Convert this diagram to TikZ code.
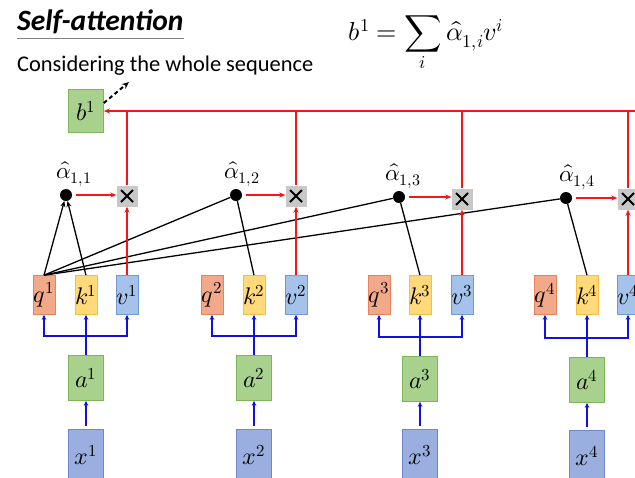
\documentclass[tikz,border=0pt]{standalone}
\usepackage{fontspec}
\usepackage{unicode-math}
\setmainfont{Carlito}
\usetikzlibrary{arrows.meta}

\definecolor{qfill}{HTML}{F2A98A}
\definecolor{qline}{HTML}{E8825A}
\definecolor{kfill}{HTML}{FFD97A}
\definecolor{kline}{HTML}{F5C040}
\definecolor{vfill}{HTML}{A4C2EA}
\definecolor{vline}{HTML}{6E9BD8}
\definecolor{gfill}{HTML}{A8D18D}
\definecolor{gline}{HTML}{7DB65A}
\definecolor{xfill}{HTML}{9AAEE0}
\definecolor{xline}{HTML}{6F88CC}
\definecolor{mfill}{HTML}{C8C8C8}
\definecolor{arrowblue}{HTML}{1010E0}
\definecolor{arrowred}{HTML}{F21818}

\newcommand{\labelsize}{\fontsize{24}{24}\selectfont}
\newcommand{\alphasize}{\fontsize{23}{24}\selectfont}
\newcommand{\titlesize}{\fontsize{29.5}{30}\selectfont}
\newcommand{\subsize}{\fontsize{22.4}{24}\selectfont}
\newcommand{\eqsize}{\fontsize{26}{28}\selectfont}

\begin{document}
\begin{tikzpicture}[x=1pt,y=-1pt,
  box/.style={draw, line width=0.6pt, inner sep=0pt, minimum width=22pt, minimum height=39pt, font=\labelsize},
  qbox/.style={box, fill=qfill, draw=qline},
  kbox/.style={box, fill=kfill, draw=kline},
  vbox/.style={box, fill=vfill, draw=vline},
  abox/.style={box, fill=gfill, draw=gline, minimum width=35pt, minimum height=45pt},
  xbox/.style={box, fill=xfill, draw=xline, minimum width=35pt, minimum height=52pt},
  mulbox/.style={fill=mfill, inner sep=0pt, minimum size=21pt,
    path picture={
      \draw[line width=2pt] ([shift={(4.5pt,4.5pt)}]path picture bounding box.south west) -- ([shift={(-4.5pt,-4.5pt)}]path picture bounding box.north east);
      \draw[line width=2pt] ([shift={(4.5pt,-4.5pt)}]path picture bounding box.north west) -- ([shift={(-4.5pt,4.5pt)}]path picture bounding box.south east);}},
  alphadot/.style={circle, fill=black, inner sep=0pt, minimum size=12pt},
  alphalabel/.style={font=\alphasize},
  blueline/.style={arrowblue, line width=1.3pt},
  bluearrow/.style={blueline, -{Stealth[length=5pt,width=4.5pt]}},
  redline/.style={arrowred, line width=1.3pt},
  redarrow/.style={redline, -{Stealth[length=6pt,width=5pt]}},
  blackline/.style={black, line width=1.3pt},
  blackarrow/.style={blackline, -{Stealth[length=6pt,width=5pt]}}]

\useasboundingbox (0,0) rectangle (635,477);

\node [anchor=west, inner xsep=0pt, inner ysep=1pt, font=\titlesize\bfseries\itshape] (Title) at (17,22) {Self-attention};
\draw [gray, line width=1.2pt] ([yshift=-3pt]Title.south west) -- ([yshift=-3pt]Title.south east);
\node [anchor=west, inner xsep=0pt, font=\subsize] (Sub) at (17,66) {Considering the whole sequence};
\node [font=\eqsize] (Eq) at (426,44) {$b^1=\displaystyle\sum_i \hat{\alpha}_{1,i}v^i$};

\node [abox, minimum height=43pt] (B1) at (86,111) {$b^1$};
\coordinate (Up) at (129,82);
\draw [black, line width=2pt, dash pattern=on 4pt off 3pt, -{Stealth[length=7pt,width=6pt]}] ([yshift=8pt]B1.east) -- (Up);

\node [qbox] (Q1) at (44,295) {$q^1$};
\node [kbox] (K1) at (86,295) {$k^1$};
\node [vbox] (V1) at (127,295) {$v^1$};
\node [qbox] (Q2) at (212,295) {$q^2$};
\node [kbox] (K2) at (254,295) {$k^2$};
\node [vbox] (V2) at (296,295) {$v^2$};
\node [qbox] (Q3) at (379,295) {$q^3$};
\node [kbox] (K3) at (420,295) {$k^3$};
\node [vbox] (V3) at (462,295) {$v^3$};
\node [qbox] (Q4) at (545,295) {$q^4$};
\node [kbox] (K4) at (587,295) {$k^4$};
\node [vbox] (V4) at (628,295) {$v^4$};

\node [abox] (A1) at (86,378) {$a^1$};
\node [abox] (A2) at (254,378) {$a^2$};
\node [abox] (A3) at (420,379) {$a^3$};
\node [abox] (A4) at (587,380) {$a^4$};

\node [xbox] (X1) at (86,455) {$x^1$};
\node [xbox] (X2) at (254,455) {$x^2$};
\node [xbox] (X3) at (420,455) {$x^3$};
\node [xbox] (X4) at (587,456) {$x^4$};

\coordinate (J1) at (86,336);
\coordinate (J2) at (254,336);
\coordinate (J3) at (420,337);
\coordinate (J4) at (587,338);

\draw [bluearrow, shorten <=3pt] (X1.north) -- (A1.south);
\draw [bluearrow, shorten <=3pt] (X2.north) -- (A2.south);
\draw [bluearrow, shorten <=3pt] (X3.north) -- (A3.south);
\draw [bluearrow, shorten <=3pt] (X4.north) -- (A4.south);

\draw [blueline] (A1.north) -- (J1);
\draw [blueline] (A2.north) -- (J2);
\draw [blueline] (A3.north) -- (J3);
\draw [blueline] (A4.north) -- (J4);

\draw [bluearrow] (J1) -| (Q1.south);
\draw [bluearrow] (J1) -- (K1.south);
\draw [bluearrow] (J1) -| (V1.south);
\draw [bluearrow] (J2) -| (Q2.south);
\draw [bluearrow] (J2) -- (K2.south);
\draw [bluearrow] (J2) -| (V2.south);
\draw [bluearrow] (J3) -| (Q3.south);
\draw [bluearrow] (J3) -- (K3.south);
\draw [bluearrow] (J3) -| (V3.south);
\draw [bluearrow] (J4) -| (Q4.south);
\draw [bluearrow] (J4) -- (K4.south);
\draw [bluearrow] (J4) -| (V4.south);

\node [alphadot] (D1) at (66,195) {};
\node [alphadot] (D2) at (236,195) {};
\node [alphadot] (D3) at (399,197) {};
\node [alphadot] (D4) at (566,198) {};

\node [alphalabel] (L1) at (74,174) {$\hat{\alpha}_{1,1}$};
\node [alphalabel] (L2) at (242,174) {$\hat{\alpha}_{1,2}$};
\node [alphalabel] (L3) at (403,176) {$\hat{\alpha}_{1,3}$};
\node [alphalabel] (L4) at (577,177) {$\hat{\alpha}_{1,4}$};

\node [mulbox] (M1) at (127,196) {};
\node [mulbox] (M2) at (296,196) {};
\node [mulbox] (M3) at (462,199) {};
\node [mulbox] (M4) at (628,199) {};

\draw [blackarrow] (Q1.north) -- (D1);
\draw [blackarrow] (K1.north) -- (D1);
\draw [blackline] (Q1.north) -- (D2);
\draw [blackline] (Q1.north) -- (D3);
\draw [blackline] (Q1.north) -- (D4);
\draw [blackline] (K2.north) -- (D2);
\draw [blackline] (K3.north) -- (D3);
\draw [blackline] (K4.north) -- (D4);

\draw [redarrow, shorten <=4pt] (D1.east) -- (D1.east -| M1.west);
\draw [redarrow, shorten <=4pt] (D2.east) -- (D2.east -| M2.west);
\draw [redarrow, shorten <=4pt] (D3.east) -- (D3.east -| M3.west);
\draw [redarrow, shorten <=4pt] (D4.east) -- (D4.east -| M4.west);

\draw [redarrow] (V1.north) -- (M1.south);
\draw [redarrow] (V2.north) -- (M2.south);
\draw [redarrow] (V3.north) -- (M3.south);
\draw [redarrow] (V4.north) -- (M4.south);

\coordinate (R) at (640,111);
\draw [redarrow] (R) -- (B1.east);
\draw [redline] (M1.north) -- (M1.north |- R);
\draw [redline] (M2.north) -- (M2.north |- R);
\draw [redline] (M3.north) -- (M3.north |- R);
\draw [redline] (M4.north) -- (M4.north |- R);

\end{tikzpicture}
\end{document}
